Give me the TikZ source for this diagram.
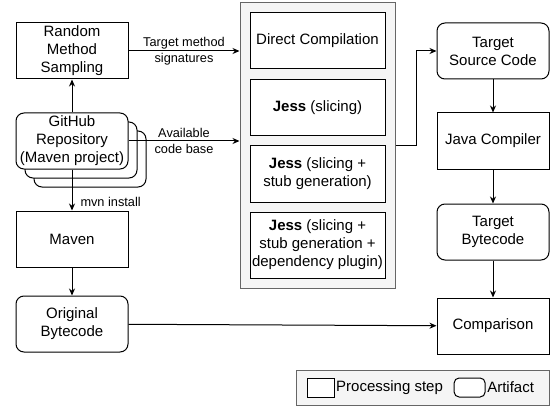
\documentclass[tikz,border=0pt]{standalone}
\usepackage{fontspec}
\setmainfont{Liberation Sans}
\usetikzlibrary{positioning, arrows.meta, fit, backgrounds, shadows}
\definecolor{groupfill}{HTML}{F5F5F5}
\definecolor{groupline}{HTML}{666666}

\begin{document}
\begin{tikzpicture}[
  x=1pt, y=-1pt,
  proc/.style={rectangle, draw=black, line width=1pt, fill=white, minimum width=112pt, minimum height=56pt, inner sep=0.5pt, align=center, font=\fontsize{15}{18}\selectfont},
  artifact/.style={proc, rounded corners=8pt},
  strategy/.style={proc, minimum width=135pt},
  group/.style={rectangle, draw=groupline, line width=1pt, fill=groupfill},
  line/.style={line width=1pt, -{Stealth[length=7pt, width=6pt]}},
  edgelabel/.style={font=\fontsize{12.75}{15.5}\selectfont, align=center, inner sep=1pt},
  legendtext/.style={font=\fontsize{15}{18}\selectfont, inner sep=0.5pt},
  stack/.style={copy shadow={shadow xshift=18pt, shadow yshift=-18pt, draw=black, fill=white, line width=1pt},
                copy shadow={shadow xshift=9pt, shadow yshift=-9pt, draw=black, fill=white, line width=1pt}},
  node distance=33pt
]
\useasboundingbox (0,0) rectangle (554,409);

% Left column: sampling, repository and build
\node[proc] (rms) at (72,51) {Random\\Method\\Sampling};
\node[artifact, stack, below=33pt of rms] (gh) {GitHub\\Repository\\(Maven project)};
\node[proc, below=41pt of gh] (mvn) {Maven};
\node[artifact, below=28pt of mvn] (ob) {Original\\Bytecode};

% Compilation strategies
\node[strategy] (dc) at (317.5,41) {Direct Compilation};
\node[strategy, below=10pt of dc] (js) {\textbf{Jess} (slicing)};
\node[strategy, below=9pt of js] (jss) {\textbf{Jess} (slicing +\\stub generation)};
\node[strategy, minimum height=66pt, below=9pt of jss] (jssd) {\textbf{Jess} (slicing +\\stub generation +\\dependency plugin)};
\begin{scope}[on background layer]
  \node[group, inner sep=9.5pt, fit=(dc) (jssd)] (cont) {};
\end{scope}

% Right column: target pipeline
\node[artifact] (tsc) at (493,51) {Target\\Source Code};
\node[proc, below=33pt of tsc] (jc) {Java Compiler};
\node[artifact, below=34pt of jc] (tb) {Target\\Bytecode};
\node[proc, below=37pt of tb] (cmp) {Comparison};

% Legend
\node[group, minimum width=253pt, minimum height=35pt] (legend) at (422.5,387.5) {};
\node[proc, minimum width=27pt, minimum height=19pt, right=11pt of legend.west] (lgproc) {};
\node[legendtext, right=1pt of lgproc] (lgproctext) {Processing step};
\node[artifact, minimum width=31pt, minimum height=19pt, rounded corners=5pt, right=10pt of lgproctext] (lgart) {};
\node[legendtext, right=1pt of lgart] (lgarttext) {Artifact};

% Edges
\draw[line] (gh) -- (rms);
\draw[line] (rms.east) -- node[edgelabel] {Target method\\signatures} (rms.east -| cont.west);
\draw[line] (gh.east) -- node[edgelabel] {Available\\code base} (gh.east -| cont.west);
\draw[line] (gh) -- node[edgelabel, anchor=west, pos=0.78, xshift=7pt] {mvn install} (mvn);
\draw[line] (mvn) -- (ob);
\draw[line] (ob) -- (cmp);
\draw[line] (cont.east) -- ++(21,0) |- (tsc.west);
\draw[line] (tsc) -- (jc);
\draw[line] (jc) -- (tb);
\draw[line] (tb) -- (cmp);

\end{tikzpicture}
\end{document}
